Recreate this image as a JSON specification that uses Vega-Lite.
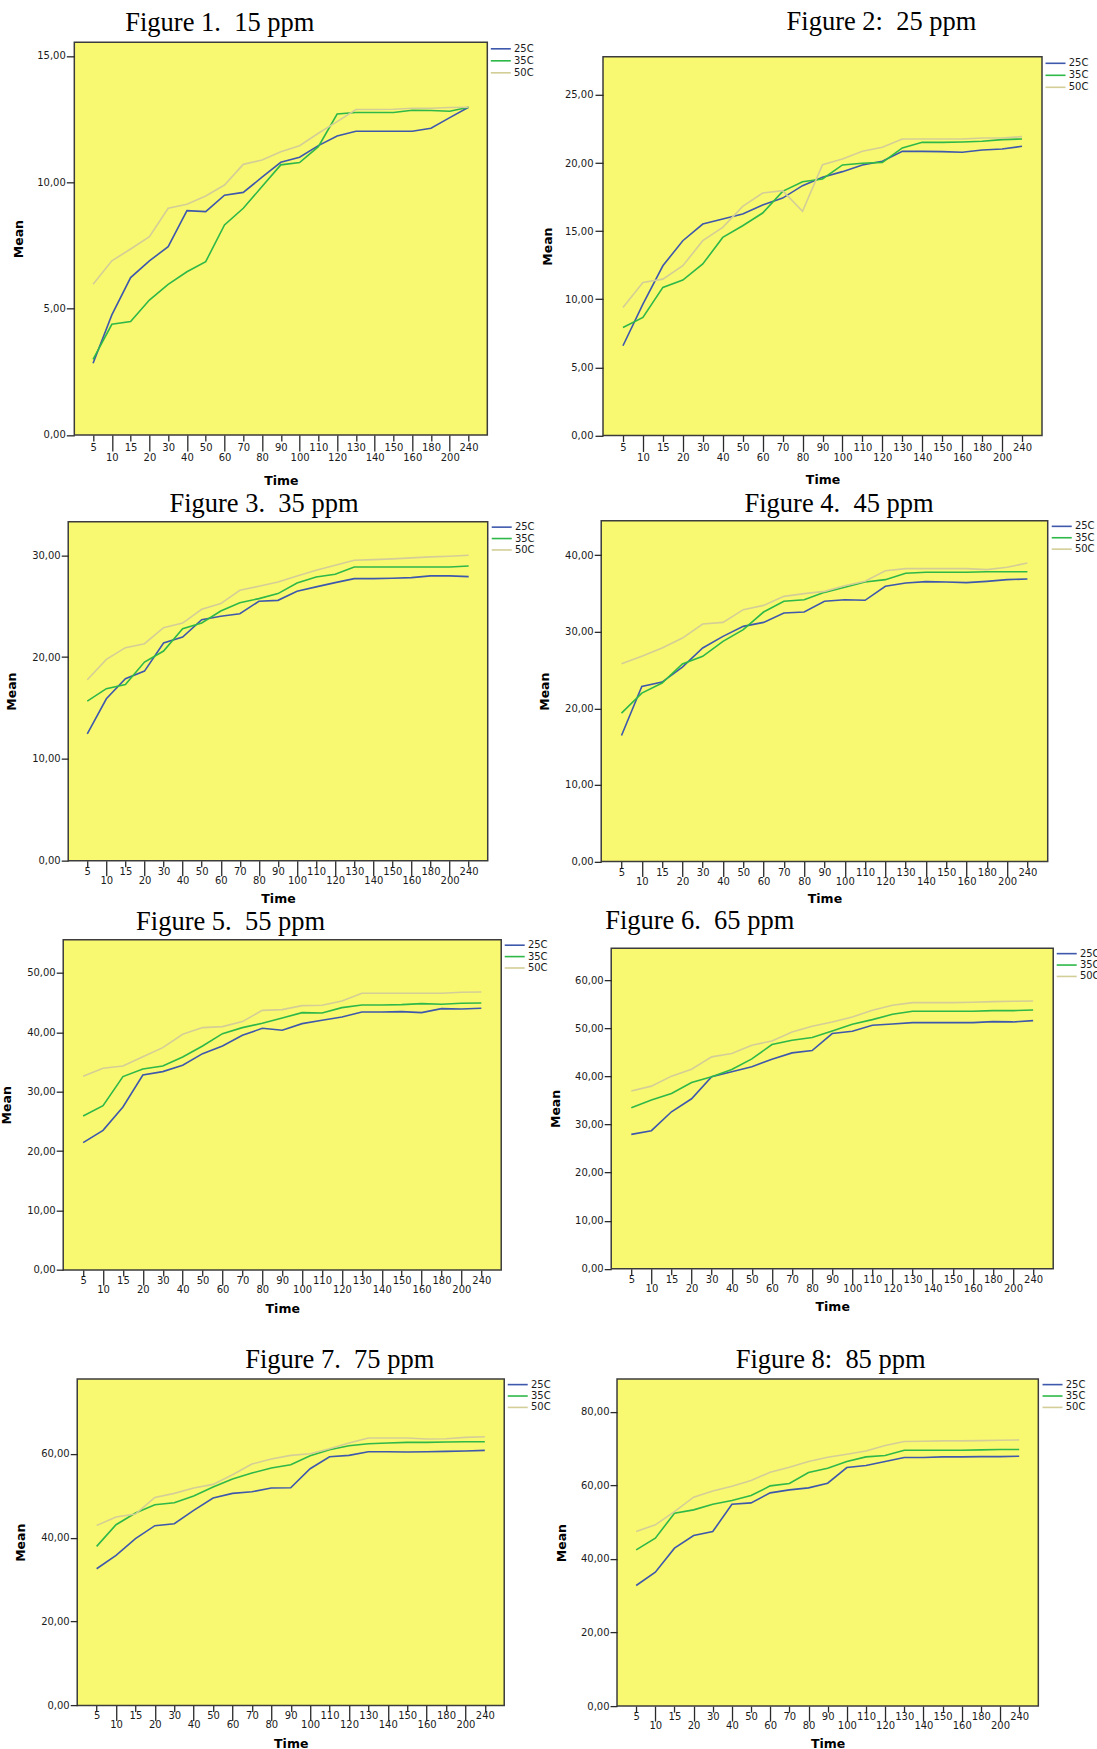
{
"$schema": "https://vega.github.io/schema/vega-lite/v6.json",
"padding": {"left": 0, "top": 7.2, "right": 0, "bottom": 0},
"config": {
 "view": {"fill": "#f9f871", "stroke": "#3c3c3c", "strokeWidth": 1.5},
 "axis": {"domain": false, "grid": false, "labelFont": "DejaVu Sans", "labelFontSize": 10, "labelColor": "#1a1a1a", "tickColor": "#2a2a2a", "tickWidth": 1.3, "titleFont": "DejaVu Sans", "titleFontSize": 12.5, "titleFontWeight": "bold", "titleColor": "#000000"},
 "legend": {"labelFont": "DejaVu Sans", "labelFontSize": 10, "labelColor": "#1a1a1a"},
 "title": {"font": "Liberation Serif", "fontSize": 26.5, "fontWeight": "normal", "color": "#000000", "frame": "group", "anchor": "middle", "baseline": "bottom"},
 "line": {"strokeWidth": 1.6}
},
"datasets": {
"p1": [
{"time":5,"temp":"25C","mean":2.84},{"time":10,"temp":"25C","mean":4.75},{"time":15,"temp":"25C","mean":6.23},{"time":20,"temp":"25C","mean":6.89},{"time":30,"temp":"25C","mean":7.45},{"time":40,"temp":"25C","mean":8.88},{"time":50,"temp":"25C","mean":8.84},{"time":60,"temp":"25C","mean":9.49},{"time":70,"temp":"25C","mean":9.6},{"time":80,"temp":"25C","mean":10.2},{"time":90,"temp":"25C","mean":10.79},{"time":100,"temp":"25C","mean":10.99},{"time":110,"temp":"25C","mean":11.45},{"time":120,"temp":"25C","mean":11.83},{"time":130,"temp":"25C","mean":12.02},{"time":140,"temp":"25C","mean":12.02},{"time":150,"temp":"25C","mean":12.02},{"time":160,"temp":"25C","mean":12.02},{"time":180,"temp":"25C","mean":12.14},{"time":200,"temp":"25C","mean":12.56},{"time":240,"temp":"25C","mean":12.97},
{"time":5,"temp":"35C","mean":2.99},{"time":10,"temp":"35C","mean":4.38},{"time":15,"temp":"35C","mean":4.49},{"time":20,"temp":"35C","mean":5.34},{"time":30,"temp":"35C","mean":5.96},{"time":40,"temp":"35C","mean":6.46},{"time":50,"temp":"35C","mean":6.86},{"time":60,"temp":"35C","mean":8.31},{"time":70,"temp":"35C","mean":8.97},{"time":80,"temp":"35C","mean":9.83},{"time":90,"temp":"35C","mean":10.69},{"time":100,"temp":"35C","mean":10.78},{"time":110,"temp":"35C","mean":11.41},{"time":120,"temp":"35C","mean":12.7},{"time":130,"temp":"35C","mean":12.76},{"time":140,"temp":"35C","mean":12.76},{"time":150,"temp":"35C","mean":12.76},{"time":160,"temp":"35C","mean":12.85},{"time":180,"temp":"35C","mean":12.84},{"time":200,"temp":"35C","mean":12.81},{"time":240,"temp":"35C","mean":12.97},
{"time":5,"temp":"50C","mean":5.96},{"time":10,"temp":"50C","mean":6.89},{"time":15,"temp":"50C","mean":7.36},{"time":20,"temp":"50C","mean":7.85},{"time":30,"temp":"50C","mean":8.97},{"time":40,"temp":"50C","mean":9.13},{"time":50,"temp":"50C","mean":9.46},{"time":60,"temp":"50C","mean":9.89},{"time":70,"temp":"50C","mean":10.71},{"time":80,"temp":"50C","mean":10.88},{"time":90,"temp":"50C","mean":11.21},{"time":100,"temp":"50C","mean":11.45},{"time":110,"temp":"50C","mean":11.94},{"time":120,"temp":"50C","mean":12.4},{"time":130,"temp":"50C","mean":12.88},{"time":140,"temp":"50C","mean":12.88},{"time":150,"temp":"50C","mean":12.89},{"time":160,"temp":"50C","mean":12.93},{"time":180,"temp":"50C","mean":12.93},{"time":200,"temp":"50C","mean":12.96},{"time":240,"temp":"50C","mean":12.97}
],
"p2": [
{"time":5,"temp":"25C","mean":6.59},{"time":10,"temp":"25C","mean":9.65},{"time":15,"temp":"25C","mean":12.46},{"time":20,"temp":"25C","mean":14.3},{"time":30,"temp":"25C","mean":15.52},{"time":40,"temp":"25C","mean":15.89},{"time":50,"temp":"25C","mean":16.26},{"time":60,"temp":"25C","mean":16.92},{"time":70,"temp":"25C","mean":17.43},{"time":80,"temp":"25C","mean":18.34},{"time":90,"temp":"25C","mean":18.95},{"time":100,"temp":"25C","mean":19.37},{"time":110,"temp":"25C","mean":19.86},{"time":120,"temp":"25C","mean":20.13},{"time":130,"temp":"25C","mean":20.86},{"time":140,"temp":"25C","mean":20.86},{"time":150,"temp":"25C","mean":20.84},{"time":160,"temp":"25C","mean":20.79},{"time":180,"temp":"25C","mean":20.96},{"time":200,"temp":"25C","mean":21.03},{"time":240,"temp":"25C","mean":21.23},
{"time":5,"temp":"35C","mean":7.93},{"time":10,"temp":"35C","mean":8.67},{"time":15,"temp":"35C","mean":10.87},{"time":20,"temp":"35C","mean":11.41},{"time":30,"temp":"35C","mean":12.59},{"time":40,"temp":"35C","mean":14.54},{"time":50,"temp":"35C","mean":15.4},{"time":60,"temp":"35C","mean":16.33},{"time":70,"temp":"35C","mean":17.92},{"time":80,"temp":"35C","mean":18.63},{"time":90,"temp":"35C","mean":18.83},{"time":100,"temp":"35C","mean":19.86},{"time":110,"temp":"35C","mean":19.98},{"time":120,"temp":"35C","mean":20.05},{"time":130,"temp":"35C","mean":21.11},{"time":140,"temp":"35C","mean":21.52},{"time":150,"temp":"35C","mean":21.52},{"time":160,"temp":"35C","mean":21.55},{"time":180,"temp":"35C","mean":21.6},{"time":200,"temp":"35C","mean":21.72},{"time":240,"temp":"35C","mean":21.77},
{"time":5,"temp":"50C","mean":9.4},{"time":10,"temp":"50C","mean":11.24},{"time":15,"temp":"50C","mean":11.48},{"time":20,"temp":"50C","mean":12.46},{"time":30,"temp":"50C","mean":14.3},{"time":40,"temp":"50C","mean":15.28},{"time":50,"temp":"50C","mean":16.82},{"time":60,"temp":"50C","mean":17.8},{"time":70,"temp":"50C","mean":17.97},{"time":80,"temp":"50C","mean":16.45},{"time":90,"temp":"50C","mean":19.88},{"time":100,"temp":"50C","mean":20.3},{"time":110,"temp":"50C","mean":20.86},{"time":120,"temp":"50C","mean":21.16},{"time":130,"temp":"50C","mean":21.77},{"time":140,"temp":"50C","mean":21.77},{"time":150,"temp":"50C","mean":21.77},{"time":160,"temp":"50C","mean":21.77},{"time":180,"temp":"50C","mean":21.84},{"time":200,"temp":"50C","mean":21.84},{"time":240,"temp":"50C","mean":21.94}
],
"p3": [
{"time":5,"temp":"25C","mean":12.46},{"time":10,"temp":"25C","mean":15.9},{"time":15,"temp":"25C","mean":17.87},{"time":20,"temp":"25C","mean":18.62},{"time":30,"temp":"25C","mean":21.38},{"time":40,"temp":"25C","mean":21.97},{"time":50,"temp":"25C","mean":23.67},{"time":60,"temp":"25C","mean":24.0},{"time":70,"temp":"25C","mean":24.26},{"time":80,"temp":"25C","mean":25.48},{"time":90,"temp":"25C","mean":25.57},{"time":100,"temp":"25C","mean":26.46},{"time":110,"temp":"25C","mean":26.89},{"time":120,"temp":"25C","mean":27.31},{"time":130,"temp":"25C","mean":27.7},{"time":140,"temp":"25C","mean":27.7},{"time":150,"temp":"25C","mean":27.74},{"time":160,"temp":"25C","mean":27.8},{"time":180,"temp":"25C","mean":27.97},{"time":200,"temp":"25C","mean":27.97},{"time":240,"temp":"25C","mean":27.9},
{"time":5,"temp":"35C","mean":15.67},{"time":10,"temp":"35C","mean":16.89},{"time":15,"temp":"35C","mean":17.31},{"time":20,"temp":"35C","mean":19.51},{"time":30,"temp":"35C","mean":20.59},{"time":40,"temp":"35C","mean":22.79},{"time":50,"temp":"35C","mean":23.34},{"time":60,"temp":"35C","mean":24.52},{"time":70,"temp":"35C","mean":25.34},{"time":80,"temp":"35C","mean":25.74},{"time":90,"temp":"35C","mean":26.23},{"time":100,"temp":"35C","mean":27.28},{"time":110,"temp":"35C","mean":27.87},{"time":120,"temp":"35C","mean":28.13},{"time":130,"temp":"35C","mean":28.85},{"time":140,"temp":"35C","mean":28.85},{"time":150,"temp":"35C","mean":28.85},{"time":160,"temp":"35C","mean":28.85},{"time":180,"temp":"35C","mean":28.85},{"time":200,"temp":"35C","mean":28.85},{"time":240,"temp":"35C","mean":28.95},
{"time":5,"temp":"50C","mean":17.77},{"time":10,"temp":"50C","mean":19.77},{"time":15,"temp":"50C","mean":20.92},{"time":20,"temp":"50C","mean":21.31},{"time":30,"temp":"50C","mean":22.89},{"time":40,"temp":"50C","mean":23.34},{"time":50,"temp":"50C","mean":24.69},{"time":60,"temp":"50C","mean":25.25},{"time":70,"temp":"50C","mean":26.56},{"time":80,"temp":"50C","mean":26.95},{"time":90,"temp":"50C","mean":27.38},{"time":100,"temp":"50C","mean":27.97},{"time":110,"temp":"50C","mean":28.52},{"time":120,"temp":"50C","mean":29.02},{"time":130,"temp":"50C","mean":29.51},{"time":140,"temp":"50C","mean":29.57},{"time":150,"temp":"50C","mean":29.64},{"time":160,"temp":"50C","mean":29.74},{"time":180,"temp":"50C","mean":29.84},{"time":200,"temp":"50C","mean":29.9},{"time":240,"temp":"50C","mean":30.0}
],
"p4": [
{"time":5,"temp":"25C","mean":16.47},{"time":10,"temp":"25C","mean":22.88},{"time":15,"temp":"25C","mean":23.44},{"time":20,"temp":"25C","mean":25.4},{"time":30,"temp":"25C","mean":27.89},{"time":40,"temp":"25C","mean":29.41},{"time":50,"temp":"25C","mean":30.72},{"time":60,"temp":"25C","mean":31.24},{"time":70,"temp":"25C","mean":32.46},{"time":80,"temp":"25C","mean":32.59},{"time":90,"temp":"25C","mean":33.99},{"time":100,"temp":"25C","mean":34.2},{"time":110,"temp":"25C","mean":34.12},{"time":120,"temp":"25C","mean":35.95},{"time":130,"temp":"25C","mean":36.38},{"time":140,"temp":"25C","mean":36.56},{"time":150,"temp":"25C","mean":36.51},{"time":160,"temp":"25C","mean":36.43},{"time":180,"temp":"25C","mean":36.6},{"time":200,"temp":"25C","mean":36.82},{"time":240,"temp":"25C","mean":36.91},
{"time":5,"temp":"35C","mean":19.39},{"time":10,"temp":"35C","mean":22.0},{"time":15,"temp":"35C","mean":23.31},{"time":20,"temp":"35C","mean":25.8},{"time":30,"temp":"35C","mean":26.8},{"time":40,"temp":"35C","mean":28.76},{"time":50,"temp":"35C","mean":30.28},{"time":60,"temp":"35C","mean":32.59},{"time":70,"temp":"35C","mean":33.99},{"time":80,"temp":"35C","mean":34.2},{"time":90,"temp":"35C","mean":35.16},{"time":100,"temp":"35C","mean":35.82},{"time":110,"temp":"35C","mean":36.51},{"time":120,"temp":"35C","mean":36.82},{"time":130,"temp":"35C","mean":37.65},{"time":140,"temp":"35C","mean":37.78},{"time":150,"temp":"35C","mean":37.78},{"time":160,"temp":"35C","mean":37.78},{"time":180,"temp":"35C","mean":37.86},{"time":200,"temp":"35C","mean":37.86},{"time":240,"temp":"35C","mean":37.86},
{"time":5,"temp":"50C","mean":25.84},{"time":10,"temp":"50C","mean":26.8},{"time":15,"temp":"50C","mean":27.89},{"time":20,"temp":"50C","mean":29.19},{"time":30,"temp":"50C","mean":31.02},{"time":40,"temp":"50C","mean":31.24},{"time":50,"temp":"50C","mean":32.9},{"time":60,"temp":"50C","mean":33.46},{"time":70,"temp":"50C","mean":34.64},{"time":80,"temp":"50C","mean":34.99},{"time":90,"temp":"50C","mean":35.29},{"time":100,"temp":"50C","mean":36.03},{"time":110,"temp":"50C","mean":36.6},{"time":120,"temp":"50C","mean":37.99},{"time":130,"temp":"50C","mean":38.26},{"time":140,"temp":"50C","mean":38.26},{"time":150,"temp":"50C","mean":38.26},{"time":160,"temp":"50C","mean":38.26},{"time":180,"temp":"50C","mean":38.13},{"time":200,"temp":"50C","mean":38.43},{"time":240,"temp":"50C","mean":39.0}
],
"p5": [
{"time":5,"temp":"25C","mean":21.44},{"time":10,"temp":"25C","mean":23.51},{"time":15,"temp":"25C","mean":27.44},{"time":20,"temp":"25C","mean":32.83},{"time":30,"temp":"25C","mean":33.39},{"time":40,"temp":"25C","mean":34.46},{"time":50,"temp":"25C","mean":36.42},{"time":60,"temp":"25C","mean":37.71},{"time":70,"temp":"25C","mean":39.51},{"time":80,"temp":"25C","mean":40.68},{"time":90,"temp":"25C","mean":40.35},{"time":100,"temp":"25C","mean":41.47},{"time":110,"temp":"25C","mean":42.03},{"time":120,"temp":"25C","mean":42.59},{"time":130,"temp":"25C","mean":43.43},{"time":140,"temp":"25C","mean":43.43},{"time":150,"temp":"25C","mean":43.49},{"time":160,"temp":"25C","mean":43.32},{"time":180,"temp":"25C","mean":44.0},{"time":200,"temp":"25C","mean":43.94},{"time":240,"temp":"25C","mean":44.05},
{"time":5,"temp":"35C","mean":25.93},{"time":10,"temp":"35C","mean":27.67},{"time":15,"temp":"35C","mean":32.55},{"time":20,"temp":"35C","mean":33.84},{"time":30,"temp":"35C","mean":34.34},{"time":40,"temp":"35C","mean":35.86},{"time":50,"temp":"35C","mean":37.71},{"time":60,"temp":"35C","mean":39.79},{"time":70,"temp":"35C","mean":40.8},{"time":80,"temp":"35C","mean":41.53},{"time":90,"temp":"35C","mean":42.42},{"time":100,"temp":"35C","mean":43.32},{"time":110,"temp":"35C","mean":43.27},{"time":120,"temp":"35C","mean":44.16},{"time":130,"temp":"35C","mean":44.61},{"time":140,"temp":"35C","mean":44.61},{"time":150,"temp":"35C","mean":44.67},{"time":160,"temp":"35C","mean":44.84},{"time":180,"temp":"35C","mean":44.73},{"time":200,"temp":"35C","mean":44.89},{"time":240,"temp":"35C","mean":44.95},
{"time":5,"temp":"50C","mean":32.6},{"time":10,"temp":"50C","mean":33.95},{"time":15,"temp":"50C","mean":34.34},{"time":20,"temp":"50C","mean":35.91},{"time":30,"temp":"50C","mean":37.43},{"time":40,"temp":"50C","mean":39.67},{"time":50,"temp":"50C","mean":40.8},{"time":60,"temp":"50C","mean":40.97},{"time":70,"temp":"50C","mean":41.81},{"time":80,"temp":"50C","mean":43.71},{"time":90,"temp":"50C","mean":43.83},{"time":100,"temp":"50C","mean":44.5},{"time":110,"temp":"50C","mean":44.56},{"time":120,"temp":"50C","mean":45.29},{"time":130,"temp":"50C","mean":46.58},{"time":140,"temp":"50C","mean":46.58},{"time":150,"temp":"50C","mean":46.58},{"time":160,"temp":"50C","mean":46.58},{"time":180,"temp":"50C","mean":46.58},{"time":200,"temp":"50C","mean":46.75},{"time":240,"temp":"50C","mean":46.8}
],
"p6": [
{"time":5,"temp":"25C","mean":27.96},{"time":10,"temp":"25C","mean":28.72},{"time":15,"temp":"25C","mean":32.66},{"time":20,"temp":"25C","mean":35.36},{"time":30,"temp":"25C","mean":39.93},{"time":40,"temp":"25C","mean":40.97},{"time":50,"temp":"25C","mean":42.01},{"time":60,"temp":"25C","mean":43.6},{"time":70,"temp":"25C","mean":44.91},{"time":80,"temp":"25C","mean":45.4},{"time":90,"temp":"25C","mean":48.93},{"time":100,"temp":"25C","mean":49.41},{"time":110,"temp":"25C","mean":50.66},{"time":120,"temp":"25C","mean":50.93},{"time":130,"temp":"25C","mean":51.21},{"time":140,"temp":"25C","mean":51.21},{"time":150,"temp":"25C","mean":51.21},{"time":160,"temp":"25C","mean":51.21},{"time":180,"temp":"25C","mean":51.42},{"time":200,"temp":"25C","mean":51.35},{"time":240,"temp":"25C","mean":51.63},
{"time":5,"temp":"35C","mean":33.49},{"time":10,"temp":"35C","mean":35.09},{"time":15,"temp":"35C","mean":36.47},{"time":20,"temp":"35C","mean":38.75},{"time":30,"temp":"35C","mean":39.93},{"time":40,"temp":"35C","mean":41.45},{"time":50,"temp":"35C","mean":43.67},{"time":60,"temp":"35C","mean":46.64},{"time":70,"temp":"35C","mean":47.54},{"time":80,"temp":"35C","mean":48.1},{"time":90,"temp":"35C","mean":49.48},{"time":100,"temp":"35C","mean":50.87},{"time":110,"temp":"35C","mean":51.83},{"time":120,"temp":"35C","mean":52.94},{"time":130,"temp":"35C","mean":53.56},{"time":140,"temp":"35C","mean":53.56},{"time":150,"temp":"35C","mean":53.56},{"time":160,"temp":"35C","mean":53.56},{"time":180,"temp":"35C","mean":53.7},{"time":200,"temp":"35C","mean":53.7},{"time":240,"temp":"35C","mean":53.84},
{"time":5,"temp":"50C","mean":36.96},{"time":10,"temp":"50C","mean":37.99},{"time":15,"temp":"50C","mean":40.07},{"time":20,"temp":"50C","mean":41.52},{"time":30,"temp":"50C","mean":44.08},{"time":40,"temp":"50C","mean":44.78},{"time":50,"temp":"50C","mean":46.51},{"time":60,"temp":"50C","mean":47.4},{"time":70,"temp":"50C","mean":49.27},{"time":80,"temp":"50C","mean":50.45},{"time":90,"temp":"50C","mean":51.35},{"time":100,"temp":"50C","mean":52.39},{"time":110,"temp":"50C","mean":53.77},{"time":120,"temp":"50C","mean":54.81},{"time":130,"temp":"50C","mean":55.36},{"time":140,"temp":"50C","mean":55.36},{"time":150,"temp":"50C","mean":55.36},{"time":160,"temp":"50C","mean":55.43},{"time":180,"temp":"50C","mean":55.57},{"time":200,"temp":"50C","mean":55.64},{"time":240,"temp":"50C","mean":55.71}
],
"p7": [
{"time":5,"temp":"25C","mean":32.59},{"time":10,"temp":"25C","mean":35.77},{"time":15,"temp":"25C","mean":39.75},{"time":20,"temp":"25C","mean":42.85},{"time":30,"temp":"25C","mean":43.32},{"time":40,"temp":"25C","mean":46.5},{"time":50,"temp":"25C","mean":49.44},{"time":60,"temp":"25C","mean":50.56},{"time":70,"temp":"25C","mean":50.95},{"time":80,"temp":"25C","mean":51.83},{"time":90,"temp":"25C","mean":51.91},{"time":100,"temp":"25C","mean":56.44},{"time":110,"temp":"25C","mean":59.3},{"time":120,"temp":"25C","mean":59.62},{"time":130,"temp":"25C","mean":60.49},{"time":140,"temp":"25C","mean":60.49},{"time":150,"temp":"25C","mean":60.41},{"time":160,"temp":"25C","mean":60.49},{"time":180,"temp":"25C","mean":60.57},{"time":200,"temp":"25C","mean":60.65},{"time":240,"temp":"25C","mean":60.81},
{"time":5,"temp":"35C","mean":37.92},{"time":10,"temp":"35C","mean":43.08},{"time":15,"temp":"35C","mean":45.87},{"time":20,"temp":"35C","mean":47.85},{"time":30,"temp":"35C","mean":48.33},{"time":40,"temp":"35C","mean":49.92},{"time":50,"temp":"35C","mean":52.07},{"time":60,"temp":"35C","mean":53.97},{"time":70,"temp":"35C","mean":55.41},{"time":80,"temp":"35C","mean":56.6},{"time":90,"temp":"35C","mean":57.39},{"time":100,"temp":"35C","mean":59.54},{"time":110,"temp":"35C","mean":60.97},{"time":120,"temp":"35C","mean":61.92},{"time":130,"temp":"35C","mean":62.4},{"time":140,"temp":"35C","mean":62.56},{"time":150,"temp":"35C","mean":62.72},{"time":160,"temp":"35C","mean":62.72},{"time":180,"temp":"35C","mean":62.8},{"time":200,"temp":"35C","mean":62.88},{"time":240,"temp":"35C","mean":62.88},
{"time":5,"temp":"50C","mean":42.93},{"time":10,"temp":"50C","mean":44.91},{"time":15,"temp":"50C","mean":45.63},{"time":20,"temp":"50C","mean":49.6},{"time":30,"temp":"50C","mean":50.56},{"time":40,"temp":"50C","mean":51.83},{"time":50,"temp":"50C","mean":52.7},{"time":60,"temp":"50C","mean":55.01},{"time":70,"temp":"50C","mean":57.55},{"time":80,"temp":"50C","mean":58.74},{"time":90,"temp":"50C","mean":59.62},{"time":100,"temp":"50C","mean":60.02},{"time":110,"temp":"50C","mean":61.21},{"time":120,"temp":"50C","mean":62.56},{"time":130,"temp":"50C","mean":63.75},{"time":140,"temp":"50C","mean":63.75},{"time":150,"temp":"50C","mean":63.75},{"time":160,"temp":"50C","mean":63.51},{"time":180,"temp":"50C","mean":63.59},{"time":200,"temp":"50C","mean":63.91},{"time":240,"temp":"50C","mean":64.07}
],
"p8": [
{"time":5,"temp":"25C","mean":32.79},{"time":10,"temp":"25C","mean":36.41},{"time":15,"temp":"25C","mean":42.93},{"time":20,"temp":"25C","mean":46.38},{"time":30,"temp":"25C","mean":47.46},{"time":40,"temp":"25C","mean":54.89},{"time":50,"temp":"25C","mean":55.25},{"time":60,"temp":"25C","mean":57.97},{"time":70,"temp":"25C","mean":58.79},{"time":80,"temp":"25C","mean":59.33},{"time":90,"temp":"25C","mean":60.6},{"time":100,"temp":"25C","mean":64.86},{"time":110,"temp":"25C","mean":65.4},{"time":120,"temp":"25C","mean":66.49},{"time":130,"temp":"25C","mean":67.57},{"time":140,"temp":"25C","mean":67.57},{"time":150,"temp":"25C","mean":67.75},{"time":160,"temp":"25C","mean":67.75},{"time":180,"temp":"25C","mean":67.84},{"time":200,"temp":"25C","mean":67.84},{"time":240,"temp":"25C","mean":67.93},
{"time":5,"temp":"35C","mean":42.48},{"time":10,"temp":"35C","mean":45.65},{"time":15,"temp":"35C","mean":52.45},{"time":20,"temp":"35C","mean":53.35},{"time":30,"temp":"35C","mean":54.89},{"time":40,"temp":"35C","mean":55.89},{"time":50,"temp":"35C","mean":57.25},{"time":60,"temp":"35C","mean":59.87},{"time":70,"temp":"35C","mean":60.51},{"time":80,"temp":"35C","mean":63.5},{"time":90,"temp":"35C","mean":64.67},{"time":100,"temp":"35C","mean":66.49},{"time":110,"temp":"35C","mean":67.75},{"time":120,"temp":"35C","mean":68.12},{"time":130,"temp":"35C","mean":69.57},{"time":140,"temp":"35C","mean":69.57},{"time":150,"temp":"35C","mean":69.57},{"time":160,"temp":"35C","mean":69.57},{"time":180,"temp":"35C","mean":69.66},{"time":200,"temp":"35C","mean":69.75},{"time":240,"temp":"35C","mean":69.75},
{"time":5,"temp":"50C","mean":47.46},{"time":10,"temp":"50C","mean":49.28},{"time":15,"temp":"50C","mean":52.9},{"time":20,"temp":"50C","mean":56.79},{"time":30,"temp":"50C","mean":58.51},{"time":40,"temp":"50C","mean":59.78},{"time":50,"temp":"50C","mean":61.32},{"time":60,"temp":"50C","mean":63.59},{"time":70,"temp":"50C","mean":64.95},{"time":80,"temp":"50C","mean":66.49},{"time":90,"temp":"50C","mean":67.66},{"time":100,"temp":"50C","mean":68.48},{"time":110,"temp":"50C","mean":69.38},{"time":120,"temp":"50C","mean":70.83},{"time":130,"temp":"50C","mean":71.92},{"time":140,"temp":"50C","mean":72.01},{"time":150,"temp":"50C","mean":72.1},{"time":160,"temp":"50C","mean":72.1},{"time":180,"temp":"50C","mean":72.19},{"time":200,"temp":"50C","mean":72.28},{"time":240,"temp":"50C","mean":72.37}
]
},
"resolve": {"scale": {"color": "independent"}, "legend": {"color": "independent"}},
"spacing": 22.6,
"center": true,
"vconcat": [
{
"resolve": {"scale": {"color": "independent"}, "legend": {"color": "independent"}},
"spacing": -11.7,
"center": true,
"vconcat": [
{
"resolve": {"scale": {"color": "independent"}, "legend": {"color": "independent"}},
"spacing": 4.7,
"center": true,
"hconcat": [
{"width": 413, "height": 392.6, "data": {"name": "p1"},
 "title": {"text": "Figure 1.\u00a0 15 ppm", "dx": -61, "offset": 6.2},
 "mark": {"type": "line"},
 "encoding": {
  "x": {"field": "time", "type": "ordinal", "scale": {"type": "point", "padding": 1.67},
   "axis": {"title": ["Time", ""], "titleLineHeight": 13, "labelAngle": 0, "labelOverlap": false, "labelBound": false,
    "tickSize": {"condition": {"test": "indexof([10,20,40,60,80,100,120,140,160,200], datum.value) >= 0", "value": 16}, "value": 6},
    "labelPadding": 1.5, "titlePadding": 12.4}},
  "y": {"field": "mean", "type": "quantitative", "scale": {"domain": [0, 15.54], "nice": false},
   "axis": {"title": "Mean", "values": [0, 5, 10, 15], "format": ".2f", "labelExpr": "replace(datum.label, '.', ',')", "tickSize": 8, "labelPadding": 1, "titlePadding": 11.3}},
  "color": {"field": "temp", "type": "nominal", "scale": {"domain": ["25C", "35C", "50C"], "range": ["#3e58ac", "#2eb848", "#d3ce97"]},
   "legend": {"title": null, "orient": "right", "offset": 6.8, "padding": 0, "symbolType": "M-1.907,0H1.907", "symbolSize": 110, "symbolStrokeWidth": 1.5, "labelOffset": 6.7, "rowPadding": 0}}
 }},
{"width": 439, "height": 378.7, "data": {"name": "p2"},
 "title": {"text": "Figure 2:\u00a0 25 ppm", "dx": 59, "offset": 21.5},
 "mark": {"type": "line"},
 "encoding": {
  "x": {"field": "time", "type": "ordinal", "scale": {"type": "point", "padding": 1.67},
   "axis": {"title": "Time", "labelAngle": 0, "labelOverlap": false, "labelBound": false,
    "tickSize": {"condition": {"test": "indexof([10,20,40,60,80,100,120,140,160,200], datum.value) >= 0", "value": 16}, "value": 6},
    "labelPadding": 1, "titlePadding": 10.85}},
  "y": {"field": "mean", "type": "quantitative", "scale": {"domain": [0, 27.8], "nice": false},
   "axis": {"title": "Mean", "values": [0, 5, 10, 15, 20, 25], "format": ".2f", "labelExpr": "replace(datum.label, '.', ',')", "tickSize": 8, "labelPadding": 2, "titlePadding": 10}},
  "color": {"field": "temp", "type": "nominal", "scale": {"domain": ["25C", "35C", "50C"], "range": ["#3e58ac", "#2eb848", "#d3ce97"]},
   "legend": {"title": null, "orient": "right", "offset": 6.8, "padding": 0, "symbolType": "M-1.907,0H1.907", "symbolSize": 110, "symbolStrokeWidth": 1.5, "labelOffset": 6.7, "rowPadding": 0}}
 }}
]
},
{
"resolve": {"scale": {"color": "independent"}, "legend": {"color": "independent"}},
"spacing": 0.1,
"center": true,
"vconcat": [
{
"resolve": {"scale": {"color": "independent"}, "legend": {"color": "independent"}},
"spacing": 1,
"center": true,
"hconcat": [
{"width": 419.5, "height": 339, "data": {"name": "p3"},
 "title": {"text": "Figure 3.\u00a0 35 ppm", "dx": -14, "offset": 4.15},
 "mark": {"type": "line"},
 "encoding": {
  "x": {"field": "time", "type": "ordinal", "scale": {"type": "point", "padding": 1.67},
   "axis": {"title": "Time", "labelAngle": 0, "labelOverlap": false, "labelBound": false,
    "tickSize": {"condition": {"test": "indexof([10,20,40,60,80,100,120,140,160,200], datum.value) >= 0", "value": 15}, "value": 6},
    "labelPadding": -0.5, "titlePadding": 6.95}},
  "y": {"field": "mean", "type": "quantitative", "scale": {"domain": [0, 33.3], "nice": false},
   "axis": {"title": "Mean", "values": [0, 10, 20, 30], "format": ".2f", "labelExpr": "replace(datum.label, '.', ',')", "tickSize": 7, "labelPadding": 1, "titlePadding": 12.7}},
  "color": {"field": "temp", "type": "nominal", "scale": {"domain": ["25C", "35C", "50C"], "range": ["#3e58ac", "#2eb848", "#d3ce97"]},
   "legend": {"title": null, "orient": "right", "offset": 8, "padding": 0, "symbolType": "M-2.357,0H2.357", "symbolSize": 72, "symbolStrokeWidth": 1.5, "labelOffset": 7.7, "rowPadding": 0.4}}
 }},
{"width": 446.5, "height": 340.7, "data": {"name": "p4"},
 "title": {"text": "Figure 4.\u00a0 45 ppm", "dx": 14.6, "offset": 3.3},
 "mark": {"type": "line"},
 "encoding": {
  "x": {"field": "time", "type": "ordinal", "scale": {"type": "point", "padding": 1.67},
   "axis": {"title": "Time", "labelAngle": 0, "labelOverlap": false, "labelBound": false,
    "tickSize": {"condition": {"test": "indexof([10,20,40,60,80,100,120,140,160,200], datum.value) >= 0", "value": 15}, "value": 6},
    "labelPadding": 0.3, "titlePadding": 6.05}},
  "y": {"field": "mean", "type": "quantitative", "scale": {"domain": [0, 44.5], "nice": false},
   "axis": {"title": "Mean", "values": [0, 10, 20, 30, 40], "format": ".2f", "labelExpr": "replace(datum.label, '.', ',')", "tickSize": 7, "labelPadding": 1, "titlePadding": 12.8}},
  "color": {"field": "temp", "type": "nominal", "scale": {"domain": ["25C", "35C", "50C"], "range": ["#3e58ac", "#2eb848", "#d3ce97"]},
   "legend": {"title": null, "orient": "right", "offset": 8, "padding": 0, "symbolType": "M-2.357,0H2.357", "symbolSize": 72, "symbolStrokeWidth": 1.5, "labelOffset": 7.7, "rowPadding": 0.4}}
 }}
]
},
{
"resolve": {"scale": {"color": "independent"}, "legend": {"color": "independent"}},
"spacing": 0,
"center": true,
"hconcat": [
{"width": 438, "height": 330.3, "data": {"name": "p5"},
 "title": {"text": "Figure 5.\u00a0 55 ppm", "dx": -51.6, "offset": 4.4},
 "mark": {"type": "line"},
 "encoding": {
  "x": {"field": "time", "type": "ordinal", "scale": {"type": "point", "padding": 1.67},
   "axis": {"title": ["Time", ""], "titleLineHeight": 6.6, "labelAngle": 0, "labelOverlap": false, "labelBound": false,
    "tickSize": {"condition": {"test": "indexof([10,20,40,60,80,100,120,140,160,200], datum.value) >= 0", "value": 15}, "value": 6},
    "labelPadding": -0.5, "titlePadding": 8.15}},
  "y": {"field": "mean", "type": "quantitative", "scale": {"domain": [0, 55.6], "nice": false},
   "axis": {"title": "Mean", "values": [0, 10, 20, 30, 40, 50], "format": ".2f", "labelExpr": "replace(datum.label, '.', ',')", "tickSize": 7, "labelPadding": 1, "titlePadding": 12.7}},
  "color": {"field": "temp", "type": "nominal", "scale": {"domain": ["25C", "35C", "50C"], "range": ["#3e58ac", "#2eb848", "#d3ce97"]},
   "legend": {"title": null, "orient": "right", "offset": 8, "padding": 0, "symbolType": "M-2.357,0H2.357", "symbolSize": 72, "symbolStrokeWidth": 1.5, "labelOffset": 7.7, "rowPadding": 0.4}}
 }},
{"width": 442, "height": 320.6, "data": {"name": "p6"},
 "title": {"text": "Figure 6.\u00a0 65 ppm", "dx": -132.5, "offset": 13.4},
 "mark": {"type": "line"},
 "encoding": {
  "x": {"field": "time", "type": "ordinal", "scale": {"type": "point", "padding": 1.67},
   "axis": {"title": "Time", "labelAngle": 0, "labelOverlap": false, "labelBound": false,
    "tickSize": {"condition": {"test": "indexof([10,20,40,60,80,100,120,140,160,200], datum.value) >= 0", "value": 15}, "value": 6},
    "labelPadding": -0.5, "titlePadding": 7.55}},
  "y": {"field": "mean", "type": "quantitative", "scale": {"domain": [0, 66.7], "nice": false},
   "axis": {"title": "Mean", "values": [0, 10, 20, 30, 40, 50, 60], "format": ".2f", "labelExpr": "replace(datum.label, '.', ',')", "tickSize": 7, "labelPadding": 1, "titlePadding": 11.6}},
  "color": {"field": "temp", "type": "nominal", "scale": {"domain": ["25C", "35C", "50C"], "range": ["#3e58ac", "#2eb848", "#d3ce97"]},
   "legend": {"title": null, "orient": "right", "offset": 8, "padding": 0, "symbolType": "M-2.357,0H2.357", "symbolSize": 72, "symbolStrokeWidth": 1.5, "labelOffset": 7.7, "rowPadding": 0.4}}
 }}
]
}
]
}
]
},
{
"resolve": {"scale": {"color": "independent"}, "legend": {"color": "independent"}},
"spacing": 2.8,
"center": true,
"hconcat": [
{"width": 427, "height": 326.3, "data": {"name": "p7"},
 "title": {"text": "Figure 7.\u00a0 75 ppm", "dx": 49, "offset": 5.4},
 "mark": {"type": "line"},
 "encoding": {
  "x": {"field": "time", "type": "ordinal", "scale": {"type": "point", "padding": 1.67},
   "axis": {"title": "Time", "labelAngle": 0, "labelOverlap": false, "labelBound": false,
    "tickSize": {"condition": {"test": "indexof([10,20,40,60,80,100,120,140,160,200], datum.value) >= 0", "value": 15}, "value": 6},
    "labelPadding": -0.5, "titlePadding": 7.3}},
  "y": {"field": "mean", "type": "quantitative", "scale": {"domain": [0, 77.8], "nice": false},
   "axis": {"title": "Mean", "values": [0, 20, 40, 60], "format": ".2f", "labelExpr": "replace(datum.label, '.', ',')", "tickSize": 7, "labelPadding": 1, "titlePadding": 12.7}},
  "color": {"field": "temp", "type": "nominal", "scale": {"domain": ["25C", "35C", "50C"], "range": ["#3e58ac", "#2eb848", "#d3ce97"]},
   "legend": {"title": null, "orient": "right", "offset": 8, "padding": 0, "symbolType": "M-2.357,0H2.357", "symbolSize": 72, "symbolStrokeWidth": 1.5, "labelOffset": 7.7, "rowPadding": 0.4}}
 }},
{"width": 421.3, "height": 327, "data": {"name": "p8"},
 "title": {"text": "Figure 8:\u00a0 85 ppm", "dx": 3, "offset": 5.4},
 "mark": {"type": "line"},
 "encoding": {
  "x": {"field": "time", "type": "ordinal", "scale": {"type": "point", "padding": 1.67},
   "axis": {"title": "Time", "labelAngle": 0, "labelOverlap": false, "labelBound": false,
    "tickSize": {"condition": {"test": "indexof([10,20,40,60,80,100,120,140,160,200], datum.value) >= 0", "value": 15}, "value": 6},
    "labelPadding": -0.5, "titlePadding": 6.6}},
  "y": {"field": "mean", "type": "quantitative", "scale": {"domain": [0, 88.9], "nice": false},
   "axis": {"title": "Mean", "values": [0, 20, 40, 60, 80], "format": ".2f", "labelExpr": "replace(datum.label, '.', ',')", "tickSize": 7, "labelPadding": 1, "titlePadding": 11.6}},
  "color": {"field": "temp", "type": "nominal", "scale": {"domain": ["25C", "35C", "50C"], "range": ["#3e58ac", "#2eb848", "#d3ce97"]},
   "legend": {"title": null, "orient": "right", "offset": 8, "padding": 0, "symbolType": "M-2.357,0H2.357", "symbolSize": 72, "symbolStrokeWidth": 1.5, "labelOffset": 7.7, "rowPadding": 0.4}}
 }}
]
}
]
}
